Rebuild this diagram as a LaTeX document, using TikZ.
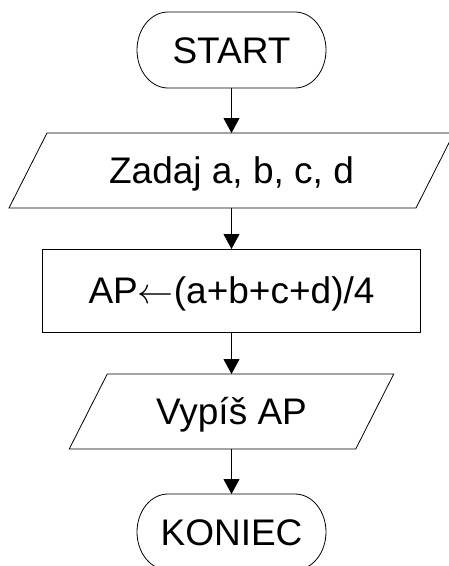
\documentclass[tikz,border=0pt]{standalone}
\usepackage{graphicx}
\usepackage{fontspec}
\setmainfont{Liberation Sans}
\usetikzlibrary{arrows.meta}
\begin{document}
\begin{tikzpicture}[x=1pt,y=-1pt,
  lbl/.style={inner sep=0pt, outer sep=0pt, font=\fontsize{37}{44}\selectfont, text height=26.5pt, text depth=0pt},
  term/.style={lbl, minimum width=189pt, minimum height=76pt},
  procbox/.style={lbl, draw, line width=0.8pt, minimum width=378pt, minimum height=83pt},
  iobox/.style={lbl, minimum height=75pt},
  shapeline/.style={line width=0.8pt},
  conn/.style={line width=0.8pt, -{Triangle[length=15pt,width=16pt]}}
]
\useasboundingbox (0,0) rectangle (449,566);
\clip (0,0) rectangle (449,566);
\node[term] (start) at (231.5,50) {START};
\draw[shapeline] ([xshift=31pt]start.north west) -- ([xshift=-31pt]start.north east)
  arc[start angle=90, end angle=-90, x radius=31pt, y radius=38pt]
  -- ([xshift=31pt]start.south west)
  arc[start angle=270, end angle=90, x radius=31pt, y radius=38pt] -- cycle;
\node[iobox, minimum width=407pt] (in) at (231.5,170.5) {Zadaj a, b, c, d};
\draw[shapeline] ([xshift=19pt]in.north west) -- ([xshift=19pt]in.north east)
  -- ([xshift=-19pt]in.south east) -- ([xshift=-19pt]in.south west) -- cycle;
\node[procbox] (calc) at (231.5,290.5) {AP\resizebox{36pt}{!}{$\leftarrow$}(a+b+c+d)/4};
\node[iobox, minimum width=286.5pt] (out) at (231.5,411.5) {Vypíš AP};
\draw[shapeline] ([xshift=19pt]out.north west) -- ([xshift=19pt]out.north east)
  -- ([xshift=-19pt]out.south east) -- ([xshift=-19pt]out.south west) -- cycle;
\node[term] (end) at (231.5,532) {KONIEC};
\draw[shapeline] ([xshift=31pt]end.north west) -- ([xshift=-31pt]end.north east)
  arc[start angle=90, end angle=-90, x radius=31pt, y radius=38pt]
  -- ([xshift=31pt]end.south west)
  arc[start angle=270, end angle=90, x radius=31pt, y radius=38pt] -- cycle;
\draw[conn] (start) -- (in);
\draw[conn] (in) -- (calc);
\draw[conn] (calc) -- (out);
\draw[conn] (out) -- (end);
\end{tikzpicture}
\end{document}
